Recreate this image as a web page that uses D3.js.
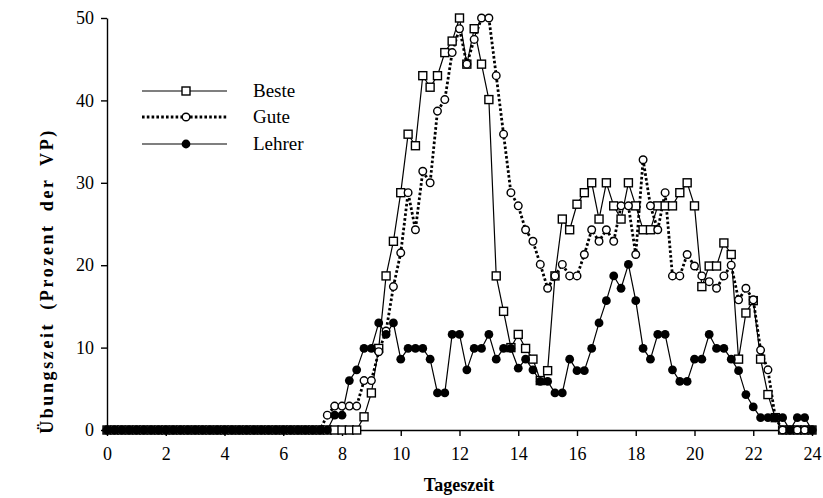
<!DOCTYPE html>
<html>
<head>
<meta charset="utf-8">
<script src="https://cdn.jsdelivr.net/npm/d3@7"></script>
<style>
  body { margin: 0; background: #fff; }
  svg { display: block; }
  text { font-family: "Liberation Serif", "DejaVu Serif", serif; fill: #000; }
</style>
</head>
<body>
<div id="chart"></div>
<script>

/******************************************************************************/
/*  Data (quarter-hour steps, percent of VP)                                  */
/******************************************************************************/

var hours = [
  0, 0.25, 0.5, 0.75, 1, 1.25, 1.5, 1.75, 2, 2.25, 2.5, 2.75, 3, 3.25, 3.5, 3.75,
  4, 4.25, 4.5, 4.75, 5, 5.25, 5.5, 5.75, 6, 6.25, 6.5, 6.75, 7, 7.25, 7.5, 7.75,
  8, 8.25, 8.5, 8.75, 9, 9.25, 9.5, 9.75, 10, 10.25, 10.5, 10.75, 11, 11.25, 11.5, 11.75,
  12, 12.25, 12.5, 12.75, 13, 13.25, 13.5, 13.75, 14, 14.25, 14.5, 14.75, 15, 15.25, 15.5, 15.75,
  16, 16.25, 16.5, 16.75, 17, 17.25, 17.5, 17.75, 18, 18.25, 18.5, 18.75, 19, 19.25, 19.5, 19.75,
  20, 20.25, 20.5, 20.75, 21, 21.25, 21.5, 21.75, 22, 22.25, 22.5, 22.75, 23, 23.25, 23.5, 23.75,
  24
];

// 0 - 7.5 h
var beste = [
  0, 0, 0, 0, 0, 0, 0, 0, 0, 0, 0, 0, 0, 0, 0, 0,
  0, 0, 0, 0, 0, 0, 0, 0, 0, 0, 0, 0, 0, 0, 0,
  // 7.75 - 24 h
  0, 0, 0, 0, 1.6, 4.5, 9.9, 18.7, 22.9, 28.8,
  35.9, 34.5, 43, 41.6, 43, 45.8, 47.2, 50, 44.4, 48.7,
  44.4, 40.1, 18.7, 14.4, 10, 11.6, 9.9, 8.6, 6, 7.2,
  18.7, 25.6, 24.3, 27.4, 28.8, 30, 25.6, 30, 27.2, 25.6,
  30, 27.2, 24.3, 24.3, 27.2, 27.2, 27.2, 28.8, 30, 27.2,
  17.4, 19.9, 19.9, 22.7, 21.3, 8.6, 14.2, 15.7, 8.6, 4.3,
  1.5, 0, 0, 0, 0, 0
];

// 0 - 7.25 h
var gute = [
  0, 0, 0, 0, 0, 0, 0, 0, 0, 0, 0, 0, 0, 0, 0, 0,
  0, 0, 0, 0, 0, 0, 0, 0, 0, 0, 0, 0, 0, 0,
  // 7.5 - 24 h
  1.8, 2.9, 2.9, 2.9, 2.9, 6, 6, 9.5, 12, 17.4, 21.5,
  28.8, 24.3, 31.4, 30, 38.7, 40.1, 45.8, 48.7, 44.4, 47.4,
  50, 50, 43, 35.9, 28.8, 27.2, 24.3, 22.9, 20.1, 17.2,
  18.7, 20.1, 18.7, 18.7, 21.3, 24.3, 22.9, 24.3, 22.9, 27.2,
  27.2, 21.3, 32.8, 27.2, 24.3, 28.8, 18.7, 18.7, 21.3, 19.9,
  18.7, 18, 17.2, 18.7, 20, 15.8, 17.2, 15.8, 9.7, 7.3,
  1.5, 0, 0, 0, 0, 0
];

// 0 - 7.5 h
var lehrer = [
  0, 0, 0, 0, 0, 0, 0, 0, 0, 0, 0, 0, 0, 0, 0, 0,
  0, 0, 0, 0, 0, 0, 0, 0, 0, 0, 0, 0, 0, 0, 0,
  // 7.75 - 24 h
  1.8, 1.8, 6, 7.3, 9.9, 9.9, 13, 11.6, 13, 8.6,
  9.9, 9.9, 9.9, 8.6, 4.5, 4.5, 11.6, 11.6, 7.3, 9.9,
  9.9, 11.6, 8.6, 9.9, 9.9, 7.5, 8.6, 7.3, 5.9, 5.9,
  4.5, 4.5, 8.6, 7.2, 7.2, 9.9, 13, 15.7, 18.7, 17.2,
  20.1, 15.7, 9.9, 8.6, 11.6, 11.6, 7.3, 5.9, 5.9, 8.6,
  8.6, 11.6, 9.9, 9.9, 8.6, 7.2, 4.3, 2.8, 1.5, 1.5,
  1.5, 1.5, 0, 1.5, 1.5, 0
];

var xTicks = [0, 2, 4, 6, 8, 10, 12, 14, 16, 18, 20, 22, 24],
    yTicks = [0, 10, 20, 30, 40, 50];

var seriesNames = ['Beste', 'Gute', 'Lehrer'];


/******************************************************************************/
/*  Chart                                                                     */
/******************************************************************************/

var W = 823, H = 498;

var svg = d3.select('#chart')
  .append('svg')
    .attr('width', W)
    .attr('height', H);

var x = d3.scaleLinear().domain([0, 24]).range([107, 812]),
    y = d3.scaleLinear().domain([0, 50]).range([430, 18]);

// Axes
var yAxis = svg.append('g')
    .attr('transform', 'translate(' + x(0) + ',0)')
    .call(d3.axisLeft(y).tickValues(yTicks).tickSize(6).tickSizeOuter(0).tickPadding(7));

var xAxis = svg.append('g')
    .attr('transform', 'translate(0,' + y(0) + ')')
    .call(d3.axisBottom(x).tickValues(xTicks).tickSize(6).tickSizeOuter(0).tickPadding(11));

[xAxis, yAxis].forEach(function(a){
  a.selectAll('path, line').attr('stroke', '#000').attr('stroke-width', 1.4);
  a.selectAll('text')
    .style('font-family', '"Liberation Serif", serif')
    .style('font-size', '18px')
    .attr('fill', '#000');
});

// Axis titles
svg.append('text')
    .attr('x', 459)
    .attr('y', 491)
    .attr('text-anchor', 'middle')
    .style('font-size', '18px')
    .style('font-weight', 'bold')
    .text('Tageszeit');

svg.append('text')
    .attr('transform', 'translate(53,281) rotate(-90)')
    .attr('text-anchor', 'middle')
    .style('font-size', '18px')
    .style('font-weight', 'bold')
    .style('letter-spacing', '2.6px')
    .style('word-spacing', '5px')
    .text('Übungszeit (Prozent der VP)');

// Series
var rows = hours.map(function(h, i){
  return { h: h, beste: beste[i], gute: gute[i], lehrer: lehrer[i] };
});

function line(key){
  return d3.line()
    .x(function(d){ return x(d.h); })
    .y(function(d){ return y(d[key]); });
}

var plot = svg.append('g');

plot.append('path')
    .datum(rows)
    .attr('d', line('beste'))
    .attr('fill', 'none')
    .attr('stroke', '#000')
    .attr('stroke-width', 1.2);

plot.append('path')
    .datum(rows)
    .attr('d', line('lehrer'))
    .attr('fill', 'none')
    .attr('stroke', '#000')
    .attr('stroke-width', 1.2);

plot.append('path')
    .datum(rows)
    .attr('d', line('gute'))
    .attr('fill', 'none')
    .attr('stroke', '#000')
    .attr('stroke-width', 2.8)
    .attr('stroke-dasharray', '2.6,2.2');

var SQ = 8;

plot.selectAll('.sq').data(rows)
  .enter().append('rect')
    .attr('class', 'sq')
    .attr('x', function(d){ return x(d.h) - SQ / 2; })
    .attr('y', function(d){ return y(d.beste) - SQ / 2; })
    .attr('width', SQ)
    .attr('height', SQ)
    .attr('fill', '#fff')
    .attr('stroke', '#000')
    .attr('stroke-width', 1.4);

plot.selectAll('.oc').data(rows)
  .enter().append('circle')
    .attr('class', 'oc')
    .attr('cx', function(d){ return x(d.h); })
    .attr('cy', function(d){ return y(d.gute); })
    .attr('r', 3.8)
    .attr('fill', '#fff')
    .attr('stroke', '#000')
    .attr('stroke-width', 1.4);

plot.selectAll('.fc').data(rows)
  .enter().append('circle')
    .attr('class', 'fc')
    .attr('cx', function(d){ return x(d.h); })
    .attr('cy', function(d){ return y(d.lehrer); })
    .attr('r', 4.4)
    .attr('fill', '#000');


/******************************************************************************/
/*  Legend                                                                    */
/******************************************************************************/

var legendY = [91, 117, 144];
var lg = svg.append('g');

seriesNames.forEach(function(name, i){
  var ly = legendY[i];
  var ln = lg.append('line')
      .attr('x1', 142).attr('x2', 227)
      .attr('y1', ly).attr('y2', ly)
      .attr('stroke', '#000');
  if (i == 1) ln.attr('stroke-width', 2.8).attr('stroke-dasharray', '2.6,2.2');
  else ln.attr('stroke-width', 1.2);

  if (i == 0) {
    lg.append('rect')
      .attr('x', 186 - SQ / 2).attr('y', ly - SQ / 2)
      .attr('width', SQ).attr('height', SQ)
      .attr('fill', '#fff').attr('stroke', '#000').attr('stroke-width', 1.4);
  } else if (i == 1) {
    lg.append('circle')
      .attr('cx', 186).attr('cy', ly).attr('r', 3.8)
      .attr('fill', '#fff').attr('stroke', '#000').attr('stroke-width', 1.4);
  } else {
    lg.append('circle')
      .attr('cx', 186).attr('cy', ly).attr('r', 4.4)
      .attr('fill', '#000');
  }

  lg.append('text')
      .attr('x', 253)
      .attr('y', ly + 6)
      .style('font-size', '19px')
      .text(name);
});
</script>
</body>
</html>
